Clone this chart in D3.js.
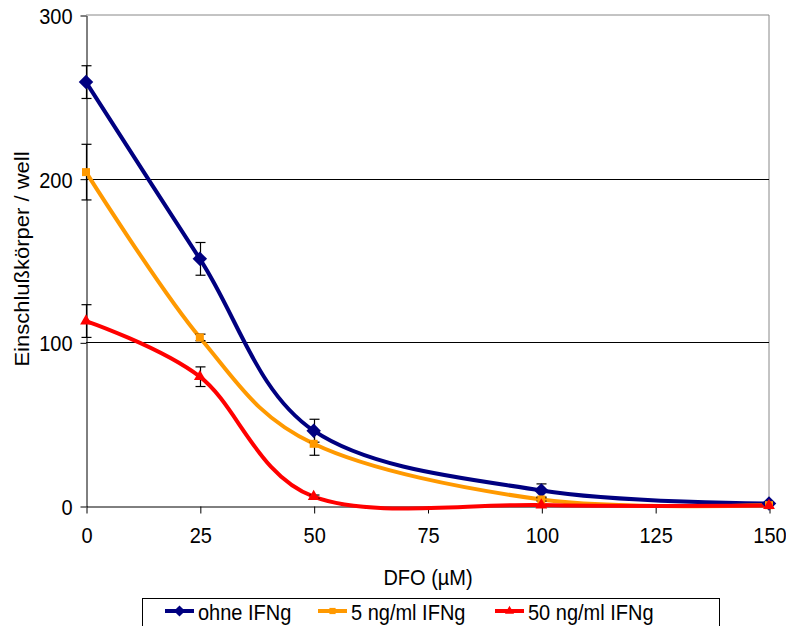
<!DOCTYPE html>
<html><head><meta charset="utf-8">
<script src="https://cdn.jsdelivr.net/npm/d3@7"></script>
<style>body{margin:0;background:#fff}svg{display:block}text{font-family:"Liberation Sans",Arial,sans-serif;fill:#000}</style>
</head><body>
<svg id="c" width="786" height="626"></svg>
<script>
const doses = [0, 25, 50, 100, 150];
const xTicks = [0, 25, 50, 75, 100, 125, 150];
const yTicks = [0, 100, 200, 300];
const seriesNames = ["ohne IFNg", "5 ng/ml IFNg", "50 ng/ml IFNg"];
const seriesColors = ["#000080", "#FF9900", "#FF0000"];
const seriesSymbols = ["diamond", "square", "triangle"];
const ohneVals = [259, 151, 46, 9.5, 1.5];
const ohneErr = [10, 10, 7, 4, 0];
const ng5Vals = [204, 103, 38, 4, 0.5];
const ng5Err = [17, 2, 7, 1, 0];
const ng50Vals = [113, 79, 5.7, 0.6, 0.3];
const ng50Err = [10, 6, 1, 0, 0];
const xTitle = "DFO (µM)";
const yTitle = "Einschlußkörper / well";

const series = [
  {name: seriesNames[0], vals: ohneVals, err: ohneErr, color: seriesColors[0], sym: seriesSymbols[0]},
  {name: seriesNames[1], vals: ng5Vals, err: ng5Err, color: seriesColors[1], sym: seriesSymbols[1]},
  {name: seriesNames[2], vals: ng50Vals, err: ng50Err, color: seriesColors[2], sym: seriesSymbols[2]}
];

const svg = d3.select("#c");
const L = 86, R = 769, T = 15, B = 506;
const x = d3.scaleLinear().domain([0, 150]).range([L, R]);
const y = d3.scaleLinear().domain([0, 300]).range([B, T]);
const FS = 20, SY = 1.1;

// frame top/right
svg.append("line").attr("x1", L).attr("x2", R).attr("y1", T).attr("y2", T).attr("stroke", "#888").attr("stroke-width", 1);
svg.append("line").attr("x1", R).attr("x2", R).attr("y1", T).attr("y2", B).attr("stroke", "#888").attr("stroke-width", 1);
// gridlines
svg.append("g").selectAll("line").data(yTicks.filter(v => v > 0 && v < 300)).join("line")
  .attr("x1", L).attr("x2", R).attr("y1", d => Math.round(y(d)) + 0.5).attr("y2", d => Math.round(y(d)) + 0.5)
  .attr("stroke", "#000").attr("stroke-width", 1);

// axes
const yAxis = d3.axisLeft(y).tickValues(yTicks).tickSize(6).tickSizeOuter(0).tickFormat(d3.format("d"));
const gy = svg.append("g").attr("transform", `translate(${L + 0.5},0.5)`).call(yAxis);
const xAxis = d3.axisBottom(x).tickValues(xTicks).tickSize(7).tickSizeOuter(0).tickFormat(d3.format("d"));
const gx = svg.append("g").attr("transform", `translate(0.5,${B + 0.5})`).call(xAxis);
[gx, gy].forEach(g => {
  g.select(".domain").attr("stroke", "#000");
  g.selectAll(".tick line").attr("stroke", "#000");
  g.selectAll(".tick text").attr("font-size", FS).attr("font-family", "Liberation Sans, Arial, sans-serif").attr("fill", "#000");
});
gy.selectAll(".tick text").attr("x", -14).attr("dy", null).attr("y", 0).attr("dominant-baseline", "central")
  .attr("transform", `scale(1,${SY})`);
gx.selectAll(".tick text").attr("dy", null).attr("y", 0).attr("dominant-baseline", "central")
  .attr("transform", `translate(0,29) scale(1,${SY})`);

// titles
svg.append("text").attr("transform", `translate(428,577) scale(1,${SY})`).attr("text-anchor", "middle")
  .attr("dominant-baseline", "central").attr("font-size", FS).text(xTitle);
svg.append("text").attr("transform", `translate(22,259) scale(1,${SY}) rotate(-90)`).attr("text-anchor", "middle")
  .attr("dominant-baseline", "central").attr("font-size", FS).text(yTitle);

// lines
const line = d3.line().curve(d3.curveCatmullRom.alpha(0)).x((d, i) => x(doses[i])).y(d => y(d));
const symType = {diamond: d3.symbolSquare, square: d3.symbolSquare, triangle: d3.symbolTriangle};
const symSize = {diamond: 105, square: 64, triangle: 60};
const symRot = {diamond: 45, square: 0, triangle: 0};

series.forEach(s => {
  svg.append("path").attr("d", line(s.vals)).attr("fill", "none").attr("stroke", s.color).attr("stroke-width", 4);
});
// error bars
series.forEach(s => {
  const g = svg.append("g").attr("stroke", "#000").attr("stroke-width", 1.2);
  s.vals.forEach((v, i) => {
    if (!s.err[i]) return;
    const cx = Math.round(x(doses[i])) + 0.5;
    const y1 = y(v + s.err[i]), y2 = y(v - s.err[i]);
    g.append("line").attr("x1", cx).attr("x2", cx).attr("y1", y1).attr("y2", y2);
    g.append("line").attr("x1", cx - 5).attr("x2", cx + 5).attr("y1", y1).attr("y2", y1);
    g.append("line").attr("x1", cx - 5).attr("x2", cx + 5).attr("y1", y2).attr("y2", y2);
  });
});
// markers
series.forEach(s => {
  svg.append("g").selectAll("path").data(s.vals).join("path")
    .attr("transform", (d, i) => `translate(${x(doses[i])},${y(d)}) rotate(${symRot[s.sym]})`)
    .attr("d", d3.symbol().type(symType[s.sym]).size(symSize[s.sym]))
    .attr("fill", s.color);
});

// legend
const lg = svg.append("g");
lg.append("rect").attr("x", 142.5).attr("y", 598.5).attr("width", 577).attr("height", 40)
  .attr("fill", "#fff").attr("stroke", "#000").attr("stroke-width", 1);
const lgX = [165, 318, 495];
series.forEach((s, i) => {
  const cy = 611;
  lg.append("line").attr("x1", lgX[i]).attr("x2", lgX[i] + 29).attr("y1", cy).attr("y2", cy)
    .attr("stroke", s.color).attr("stroke-width", 4);
  lg.append("path").attr("transform", `translate(${lgX[i] + 14.5},${cy}) rotate(${symRot[s.sym]})`)
    .attr("d", d3.symbol().type(symType[s.sym]).size(symSize[s.sym] * 0.6)).attr("fill", s.color);
  lg.append("text").attr("transform", `translate(${lgX[i] + 33},${cy + 1}) scale(1,${SY})`)
    .attr("dominant-baseline", "central").attr("font-size", FS).text(s.name);
});
</script>
</body></html>
